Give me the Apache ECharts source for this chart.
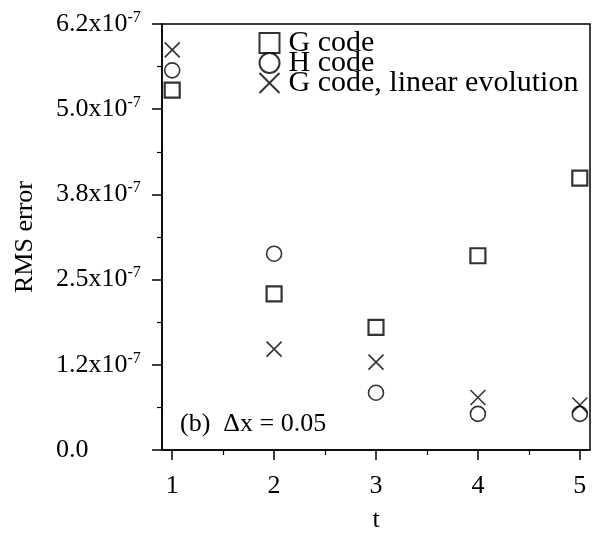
<!DOCTYPE html>
<html>
<head>
<meta charset="utf-8">
<script src="https://cdn.jsdelivr.net/npm/echarts@6/dist/echarts.min.js"></script>
<style>
  html, body { margin: 0; padding: 0; background: #fff; }
  #chart { width: 602px; height: 540px; }
</style>
</head>
<body>
<div id="chart"></div>
<script>
// values (RMS error, units of 1e-7)
const tValues = [1, 2, 3, 4, 5]
const gCode = [5.28, 2.29, 1.80, 2.85, 3.99]
const hCode = [5.57, 2.88, 0.84, 0.53, 0.53]
const gLinear = [5.87, 1.48, 1.29, 0.77, 0.66]
const yMantissa = ['0.0', '1.2', '2.5', '3.8', '5.0', '6.2']
const xMajor = [1, 2, 3, 4, 5]
const xMinor = [1.5, 2.5, 3.5, 4.5]
const seriesNames = ['G code', 'H code', 'G code, linear evolution']

const SCALE = 1e-7
const Y_STEP = 1.25e-7
const FONT = '"Liberation Serif", "DejaVu Serif", serif'

const toPoints = (arr) => arr.map((v, i) => [tValues[i], v * SCALE])

const chart = echarts.init(document.getElementById('chart'))

const xBase = {
  type: 'value', min: 0.9, max: 5.1, position: 'bottom',
  splitLine: { show: false },
}

chart.setOption({
  animation: false,
  grid: {
    left: 162, right: 12, top: 24, bottom: 90,
    show: true, borderColor: '#000', borderWidth: 1.5,
  },
  legend: {
    orient: 'vertical', left: 252, top: 23,
    itemWidth: 20, itemHeight: 20, itemGap: -10,
    textStyle: { fontFamily: FONT, fontSize: 30, color: '#000', padding: [0, 0, 0, 4] },
    data: seriesNames,
  },
  xAxis: [
    {
      ...xBase,
      name: 't', nameLocation: 'middle', nameGap: 57,
      nameTextStyle: { fontFamily: FONT, fontSize: 26, color: '#000' },
      axisLine: { lineStyle: { color: '#000', width: 1.5 } },
      axisTick: { customValues: xMajor, length: 10, lineStyle: { color: '#000', width: 1.5 } },
      axisLabel: {
        customValues: xMajor, margin: 23,
        fontFamily: FONT, fontSize: 26, color: '#000',
      },
    },
    {
      ...xBase,
      axisLine: { show: false },
      axisTick: { customValues: xMinor, length: 5, lineStyle: { color: '#000', width: 1.2 } },
      axisLabel: { show: false },
    },
  ],
  yAxis: {
    type: 'value', min: 0, max: 6.25e-7, interval: Y_STEP,
    name: 'RMS error', nameLocation: 'middle', nameGap: 124,
    nameTextStyle: { fontFamily: FONT, fontSize: 26, color: '#000' },
    splitLine: { show: false },
    axisLine: { show: true, lineStyle: { color: '#000', width: 1.5 } },
    axisTick: { length: 10, lineStyle: { color: '#000', width: 1.5 } },
    minorTick: { show: true, splitNumber: 2, length: 5, lineStyle: { color: '#000', width: 1.2 } },
    axisLabel: {
      align: 'left', margin: 106,
      formatter: (v) => {
        const i = Math.round(v / Y_STEP)
        return i === 0 ? '{a|' + yMantissa[0] + '}' : '{a|' + yMantissa[i] + 'x10}{s|-7}'
      },
      rich: {
        a: { fontFamily: FONT, fontSize: 26, color: '#000' },
        s: { fontFamily: FONT, fontSize: 16, color: '#000', padding: [0, 0, 13, 0] },
      },
    },
  },
  graphic: [{
    type: 'text', left: 180, top: 411,
    style: { text: '(b)  Δx = 0.05', font: '26px ' + FONT, fill: '#000' },
  }],
  series: [
    {
      name: seriesNames[0], type: 'scatter', data: toPoints(gCode),
      symbol: 'rect', symbolSize: 15,
      itemStyle: { color: '#fff', borderColor: '#000', borderWidth: 2.2 },
    },
    {
      name: seriesNames[1], type: 'scatter', data: toPoints(hCode),
      symbol: 'circle', symbolSize: 15,
      itemStyle: { color: '#fff', borderColor: '#000', borderWidth: 1.6 },
    },
    {
      name: seriesNames[2], type: 'scatter', data: toPoints(gLinear),
      symbol: 'path://M0,0L10,10M10,0L0,10', symbolSize: 15,
      itemStyle: { color: 'none', borderColor: '#000', borderWidth: 1.6 },
    },
  ],
})
</script>
</body>
</html>
